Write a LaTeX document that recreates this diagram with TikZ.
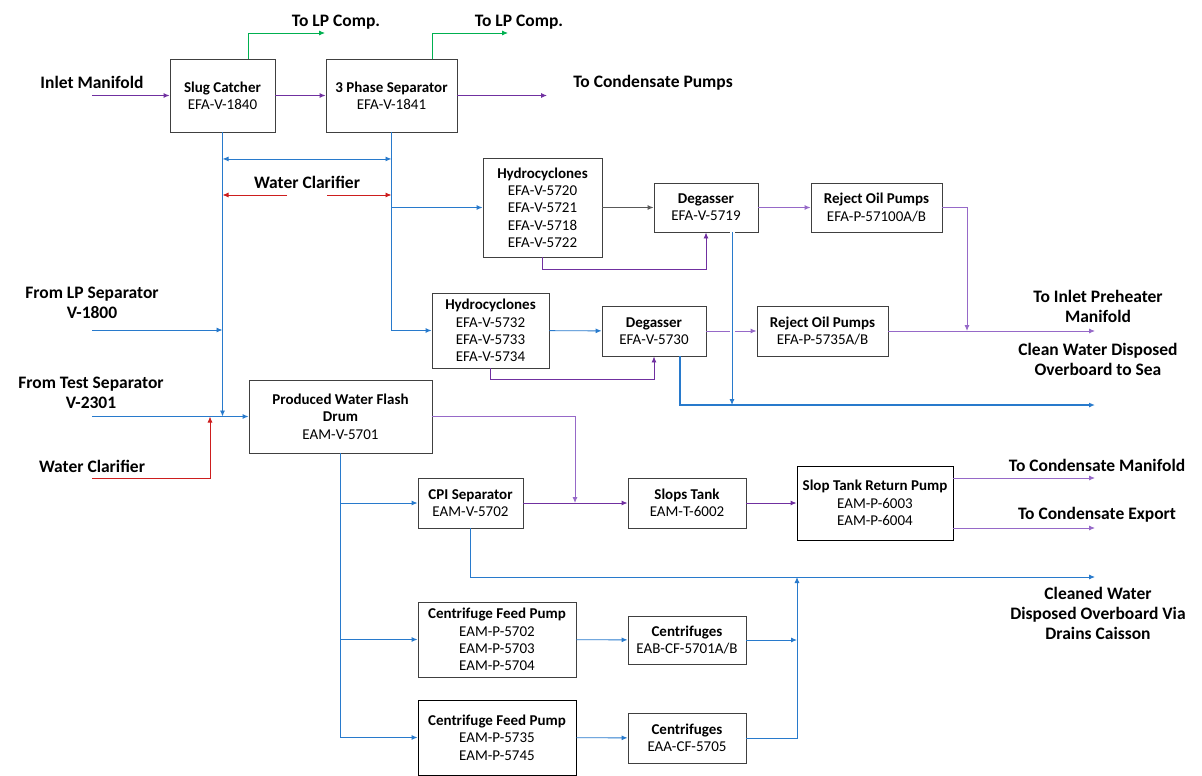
\documentclass[tikz,border=0pt]{standalone}
\usepackage{fontspec}
\setmainfont{Carlito}
\usetikzlibrary{arrows.meta,positioning}

\definecolor{wblue}{RGB}{40,122,204}
\definecolor{oilp}{RGB}{112,48,160}
\definecolor{oilq}{RGB}{150,105,200}
\definecolor{gasg}{RGB}{0,176,80}
\definecolor{clar}{RGB}{205,30,30}

\begin{document}
\begin{tikzpicture}[
  x=1pt, y=-1pt,
  box/.style  = {draw=black!75, line width=0.9pt, fill=white, align=center,
                 inner sep=1pt, font=\fontsize{15}{17.3}\selectfont},
  lbl/.style  = {align=center, font=\bfseries\fontsize{17.5}{20}\selectfont},
  ln/.style   = {line width=0.9pt, -{Latex[length=6pt,width=5pt]}},
  wat/.style  = {ln, draw=wblue},
  oil/.style  = {ln, draw=oilp},
  oill/.style = {ln, draw=oilq},
  gas/.style  = {ln, draw=gasg},
  cla/.style  = {ln, draw=clar},
  hc/.style   = {ln, draw=black!65},
]
\useasboundingbox (0,0) rectangle (1202,776);

% ---- inlet separation ------------------------------------------------------
\node[box, minimum width=105pt, minimum height=73pt] (slug) at (222.5,95.5)
  {\textbf{Slug Catcher}\\EFA-V-1840};
\node[box, minimum width=131pt, minimum height=73pt] (tps) at (391.5,95.5)
  {\textbf{3 Phase Separator}\\EFA-V-1841};

\node[lbl] (lInlet) at (92,82)   {Inlet Manifold};
\node[lbl] (lLpA)   at (336,22)  {To LP Comp.};
\node[lbl] (lLpB)   at (519,22)  {To LP Comp.};
\node[lbl] (lCondP) at (653,83)  {To Condensate Pumps};

\coordinate (inS)  at (92,95.5);
\coordinate (lpA)  at (325,33);
\coordinate (lpB)  at (508,33);
\coordinate (cpE)  at (547,95.5);

\draw[oil] (inS) -- (slug.west);
\draw[oil] (slug) -- (tps);
\draw[oil] (tps.east) -- (cpE);
\draw[gas] ([xshift=25.5pt]slug.north) |- (lpA);
\draw[gas] ([xshift=40.5pt]tps.north) |- (lpB);

% ---- water clarifier -------------------------------------------------------
\node[lbl] (lWcT) at (307,182) {Water Clarifier};
\coordinate (rL) at (287,195);
\coordinate (rR) at (327,195);

\draw[wat, {Latex[length=6pt,width=5pt]}-{Latex[length=6pt,width=5pt]}]
  ([yshift=-26.5pt]slug.south) -- ([yshift=-26.5pt]slug.south -| tps.south);
\draw[cla] (rL) -- (rL -| slug.south);
\draw[cla] (rR) -- (rR -| tps.south);

% ---- hydrocyclone trains ---------------------------------------------------
\node[box, minimum width=119pt, minimum height=99pt] (hyA) at (542.5,207.5)
  {\textbf{Hydrocyclones}\\EFA-V-5720\\EFA-V-5721\\EFA-V-5718\\EFA-V-5722};
\node[box, minimum width=104pt, minimum height=49pt] (degA) at (706,207.5)
  {\textbf{Degasser}\\EFA-V-5719};
\node[box, minimum width=131pt, minimum height=49pt] (ropA) at (876.5,207.5)
  {\textbf{Reject Oil Pumps}\\EFA-P-57100A/B};

\node[box, minimum width=117pt, minimum height=75pt] (hyB) at (490.5,330.5)
  {\textbf{Hydrocyclones}\\EFA-V-5732\\EFA-V-5733\\EFA-V-5734};
\node[box, minimum width=104pt, minimum height=50pt] (degB) at (654,331)
  {\textbf{Degasser}\\EFA-V-5730};
\node[box, minimum width=131pt, minimum height=50pt] (ropB) at (822.5,331)
  {\textbf{Reject Oil Pumps}\\EFA-P-5735A/B};

\node[lbl] (lPre) at (1098,306)   {To Inlet Preheater\\Manifold};
\node[lbl] (lSea) at (1098,359.5) {Clean Water Disposed\\Overboard to Sea};

\coordinate (ipJ) at (967,331);
\coordinate (ipE) at (1095,331);
\coordinate (swE) at (1095,405);

\draw[wat] (tps.south) |- (hyB.west);
\draw[wat] (tps.south |- hyA.west) -- (hyA.west);
\draw[hc]  (hyA) -- (degA);
\draw[oil] (hyA.south) -- ++(0,12) -| (degA.south);
\draw[oill] (degA) -- (ropA);
\draw[oill] (ropA.east) -| (ipJ);
\draw[oill] (ropB.east) -- (ipE);

\draw[wat] (hyB) -- (degB);
\draw[oil] (hyB.south) -- ++(0,11) -| (degB.south);
\draw[oill] (degB) -- (ropB);
\draw[wat, preaction={draw=white, line width=5pt, -, shorten >=8pt}]
  ([xshift=26pt]degA.south) -- ([xshift=26pt]degA.south |- swE);
\draw[wat, line width=1.4pt] ([xshift=26pt]degB.south) |- (swE);

% ---- produced water inlets -------------------------------------------------
\node[box, minimum width=183pt, minimum height=73pt] (drum) at (340.5,416.5)
  {\textbf{Produced Water Flash}\\\textbf{Drum}\\EAM-V-5701};

\node[lbl] (lLpS) at (92,303)   {From LP Separator\\V-1800};
\node[lbl] (lTsS) at (91,392.5) {From Test Separator\\V-2301};
\node[lbl] (lWcB) at (92,466)   {Water Clarifier};

\coordinate (lpS) at (92,330);
\coordinate (tsS) at (92,416.5);
\coordinate (wcS) at (92,478);
\coordinate (wcJ) at (210,416.5);

\draw[wat] (slug.south) -- (slug.south |- drum.west);
\draw[wat] (lpS) -- (lpS -| slug.south);
\draw[wat] (tsS) -- (drum.west);
\draw[cla] (wcS) -| (wcJ);

% ---- drum outlets ----------------------------------------------------------
\node[box, minimum width=105pt, minimum height=50pt] (cpi) at (470.5,503)
  {\textbf{CPI Separator}\\EAM-V-5702};
\node[box, minimum width=118pt, minimum height=50pt] (slops) at (687,503)
  {\textbf{Slops Tank}\\EAM-T-6002};
\node[box, draw=black, minimum width=156pt, minimum height=74pt] (strp) at (875,503)
  {\textbf{Slop Tank Return Pump}\\EAM-P-6003\\EAM-P-6004};

\node[box, minimum width=158pt, minimum height=75pt] (cfpA) at (497,639.5)
  {\textbf{Centrifuge Feed Pump}\\EAM-P-5702\\EAM-P-5703\\EAM-P-5704};
\node[box, minimum width=118pt, minimum height=48pt] (cfA) at (687,640)
  {\textbf{Centrifuges}\\EAB-CF-5701A/B};
\node[box, draw=black, minimum width=158pt, minimum height=75pt] (cfpB) at (497,737.5)
  {\textbf{Centrifuge Feed Pump}\\EAM-P-5735\\EAM-P-5745};
\node[box, minimum width=118pt, minimum height=50pt] (cfB) at (687,738)
  {\textbf{Centrifuges}\\EAA-CF-5705};

\node[lbl] (lCm) at (1097,465) {To Condensate Manifold};
\node[lbl] (lCe) at (1097,515) {To Condensate Export};
\node[lbl] (lCw) at (1098,613) {Cleaned Water\\Disposed Overboard Via\\Drains Caisson};

\coordinate (slJ) at (575,503);
\coordinate (cmE) at (1095,478);
\coordinate (ceE) at (1095,528);
\coordinate (cwE) at (1095,577);
\coordinate (cwJ) at (797,577);

\draw[oill] (drum.east) -| (slJ);
\draw[oil]  (cpi) -- (slops);
\draw[oil]  (slops) -- (strp);
\draw[oill] (strp.east |- cmE) -- (cmE);
\draw[oill] (strp.east |- ceE) -- (ceE);

\draw[wat] (drum.south) |- (cfpB.west);
\draw[wat] (drum.south |- cpi.west) -- (cpi.west);
\draw[wat] (drum.south |- cfpA.west) -- (cfpA.west);
\draw[wat] (cpi.south) |- (cwE);
\draw[wat] (cfpA) -- (cfA);
\draw[wat] (cfpB) -- (cfB);
\draw[wat] (cfA.east) -- (cfA.east -| cwJ);
\draw[wat] (cfB.east) -| (cwJ);

\end{tikzpicture}
\end{document}
